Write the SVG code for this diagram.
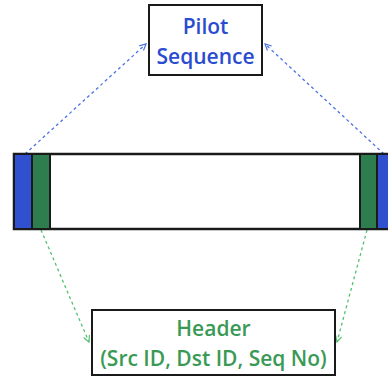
<svg xmlns="http://www.w3.org/2000/svg" width="388" height="377" viewBox="0 0 388 377">
<style>
.box{fill:#fff;stroke:#1a1a1a;stroke-width:2}
.lbl{font-family:"Open Sans","Liberation Sans",sans-serif;font-size:21px;font-weight:600;text-anchor:middle}
.blue{fill:#2a4cd0}
.green{fill:#3a9a55}
.cb{stroke:#4a72e0;stroke-width:1.3;stroke-dasharray:3,3;fill:none}
.cg{stroke:#55c070;stroke-width:1.3;stroke-dasharray:3,3;fill:none}
</style>
<defs>
<marker id="ab" viewBox="0 0 10 10" refX="9" refY="5" markerWidth="6" markerHeight="6" orient="auto"><path d="M1,1 L9,5 L1,9" fill="none" stroke="#4a72e0" stroke-width="1.5"/></marker>
<marker id="ag" viewBox="0 0 10 10" refX="9" refY="5" markerWidth="6" markerHeight="6" orient="auto"><path d="M1,1 L9,5 L1,9" fill="none" stroke="#55c070" stroke-width="1.5"/></marker>
</defs>
<g id="connectors">
<path class="cb" d="M25,154 L146,44" marker-end="url(#ab)"/>
<path class="cb" d="M384,154 L265,44" marker-end="url(#ab)"/>
<path class="cg" d="M41,230 L89,342" marker-end="url(#ag)"/>
<path class="cg" d="M367,230 L337,342" marker-end="url(#ag)"/>
</g>
<g id="pilot">
<rect class="box" x="149" y="5" width="113" height="70"/>
<text class="lbl blue" x="205.5" y="34">Pilot</text>
<text class="lbl blue" x="205.5" y="64">Sequence</text>
</g>
<g id="packet">
<rect x="14" y="154" width="380" height="75" fill="#fff" stroke="#1a1a1a" stroke-width="2.5"/>
<rect x="14" y="154" width="18" height="75" fill="#3050d0" stroke="#1a1a1a" stroke-width="2"/>
<rect x="32" y="154" width="18" height="75" fill="#2e7d4e" stroke="#1a1a1a" stroke-width="2"/>
<rect x="360" y="154" width="17" height="75" fill="#2e7d4e" stroke="#1a1a1a" stroke-width="2"/>
<rect x="377" y="154" width="17" height="75" fill="#3050d0" stroke="#1a1a1a" stroke-width="2"/>
</g>
<g id="header">
<rect class="box" x="92" y="310" width="243" height="65"/>
<text class="lbl green" x="213.5" y="336">Header</text>
<text class="lbl green" x="213.5" y="366">(Src ID, Dst ID, Seq No)</text>
</g>
</svg>
